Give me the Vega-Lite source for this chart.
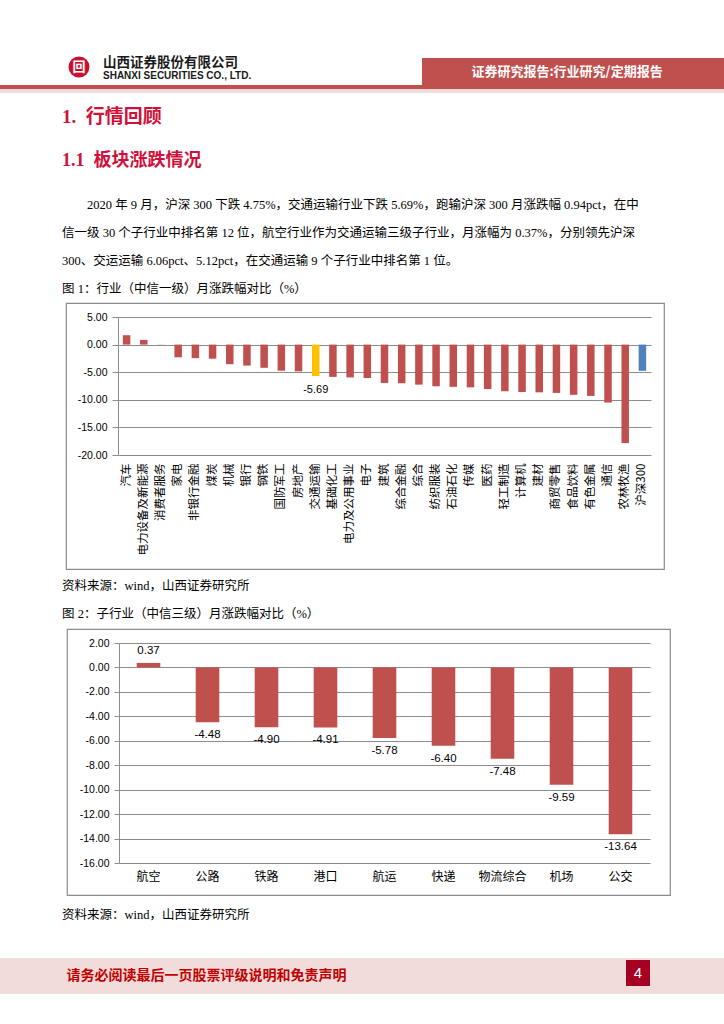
{
  "$schema": "https://vega.github.io/schema/vega-lite/v6.json",
  "padding": 0,
  "background": "white",
  "spacing": 0,
  "config": {
    "view": {"stroke": null},
    "font": "Noto Sans CJK SC",
    "locale": {"number": {"decimal": ".", "thousands": ",", "grouping": [3], "currency": ["", ""], "minus": "-"}}
  },
  "datasets": {
    "empty": [],
    "logo": [{"t": "回"}],
    "banner": [{"t": "证券研究报告:行业研究/定期报告"}],
    "foot": [{"t": "请务必阅读最后一页股票评级说明和免责声明"}],
    "page": [{"t": "4"}],
    "ind": [
      {"name": "汽车", "value": 1.70, "kind": "行业"},
      {"name": "电力设备及新能源", "value": 0.85, "kind": "行业"},
      {"name": "消费者服务", "value": 0.03, "kind": "行业"},
      {"name": "家电", "value": -2.30, "kind": "行业"},
      {"name": "非银行金融", "value": -2.45, "kind": "行业"},
      {"name": "煤炭", "value": -2.55, "kind": "行业"},
      {"name": "机械", "value": -3.55, "kind": "行业"},
      {"name": "银行", "value": -3.80, "kind": "行业"},
      {"name": "钢铁", "value": -4.20, "kind": "行业"},
      {"name": "国防军工", "value": -4.73, "kind": "行业"},
      {"name": "房地产", "value": -4.85, "kind": "行业"},
      {"name": "交通运输", "value": -5.69, "kind": "交通运输"},
      {"name": "基础化工", "value": -5.85, "kind": "行业"},
      {"name": "电力及公用事业", "value": -5.95, "kind": "行业"},
      {"name": "电子", "value": -6.05, "kind": "行业"},
      {"name": "建筑", "value": -6.95, "kind": "行业"},
      {"name": "综合金融", "value": -7.00, "kind": "行业"},
      {"name": "综合", "value": -7.25, "kind": "行业"},
      {"name": "纺织服装", "value": -7.55, "kind": "行业"},
      {"name": "石油石化", "value": -7.65, "kind": "行业"},
      {"name": "传媒", "value": -7.75, "kind": "行业"},
      {"name": "医药", "value": -8.05, "kind": "行业"},
      {"name": "轻工制造", "value": -8.45, "kind": "行业"},
      {"name": "计算机", "value": -8.60, "kind": "行业"},
      {"name": "建材", "value": -8.65, "kind": "行业"},
      {"name": "商贸零售", "value": -8.75, "kind": "行业"},
      {"name": "食品饮料", "value": -9.10, "kind": "行业"},
      {"name": "有色金属", "value": -9.30, "kind": "行业"},
      {"name": "通信", "value": -10.50, "kind": "行业"},
      {"name": "农林牧渔", "value": -17.85, "kind": "行业"},
      {"name": "沪深300", "value": -4.75, "kind": "沪深300"}
    ],
    "sub": [
      {"name": "航空", "value": 0.37},
      {"name": "公路", "value": -4.48},
      {"name": "铁路", "value": -4.90},
      {"name": "港口", "value": -4.91},
      {"name": "航运", "value": -5.78},
      {"name": "快递", "value": -6.40},
      {"name": "物流综合", "value": -7.48},
      {"name": "机场", "value": -9.59},
      {"name": "公交", "value": -13.64}
    ]
  },
  "vconcat": [
    {
      "spacing": 0,
      "hconcat": [
        {"width": 67, "height": 85, "data": {"name": "empty"}, "mark": "point"},
        {
          "spacing": 0,
          "vconcat": [
            {"width": 24, "height": 54, "data": {"name": "empty"}, "mark": "point"},
            {"width": 24, "height": 26, "data": {"name": "logo"}, "layer": [
              {"mark": {"type": "point", "shape": "circle", "filled": true, "size": 440, "color": "#C8102E", "opacity": 1}, "encoding": {}},
              {"mark": {"type": "text", "color": "white", "fontSize": 13, "fontWeight": "bold", "font": "Noto Sans CJK SC"}, "encoding": {"text": {"field": "t"}}}
            ]},
            {"width": 24, "height": 5, "data": {"name": "empty"}, "mark": "point"}
          ]
        },
        {"width": 331, "height": 85, "data": {"name": "empty"}, "mark": "point",
         "title": {"text": "山西证券股份有限公司", "subtitle": "SHANXI SECURITIES CO., LTD.", "anchor": "start", "frame": "group", "dx": 12, "offset": -81,
                   "font": "Noto Sans CJK SC", "fontSize": 13.5, "fontWeight": "bold", "color": "#1a1a1a",
                   "subtitleFont": "Liberation Sans", "subtitleFontSize": 10, "subtitleFontWeight": "bold", "subtitleColor": "#1a1a1a", "subtitlePadding": 2}},
        {
          "spacing": 0,
          "vconcat": [
            {"width": 302, "height": 58, "data": {"name": "empty"}, "mark": "point"},
            {
              "spacing": 0,
              "hconcat": [
                {"width": 290, "height": 27, "data": {"name": "banner"}, "view": {"fill": "#C0504D", "stroke": null},
                 "mark": {"type": "text", "color": "white", "fontSize": 13, "fontWeight": "bold", "font": "Noto Sans CJK SC"},
                 "encoding": {"text": {"field": "t"}}},
                {"width": 12, "height": 27, "data": {"name": "empty"}, "view": {"fill": "#C0504D", "stroke": null}, "mark": "point"}
              ]
            }
          ]
        }
      ]
    },
    {"width": 724, "height": 4, "data": {"name": "empty"}, "mark": "point", "view": {"fill": "#C0504D", "stroke": null}},
    {"width": 724, "height": 4, "data": {"name": "empty"}, "mark": "point", "view": {"fill": "#F2DCDB", "stroke": null}},
    {
      "width": 724, "height": 39, "data": {"name": "empty"}, "mark": "point",
      "title": {"text": "1.\u2002行情回顾", "anchor": "start", "frame": "group", "dx": 62, "offset": -34,
                "font": "Liberation Serif, Noto Sans CJK SC", "fontSize": 19, "fontWeight": "bold", "color": "#D0103A"}
    },
    {
      "width": 724, "height": 170, "data": {"name": "empty"}, "mark": "point",
      "title": {
        "text": "1.1\u2002板块涨跌情况",
        "subtitle": [
          "\u200b\u3000\u30002020 年 9 月，沪深 300 下跌 4.75%，交通运输行业下跌 5.69%，跑输沪深 300 月涨跌幅 0.94pct，在中",
          "信一级 30 个子行业中排名第 12 位，航空行业作为交通运输三级子行业，月涨幅为 0.37%，分别领先沪深",
          "300、交运运输 6.06pct、5.12pct，在交通运输 9 个子行业中排名第 1 位。",
          "图 1：行业（中信一级）月涨跌幅对比（%）"
        ],
        "anchor": "start", "frame": "group", "dx": 62, "offset": -163,
        "font": "Liberation Serif, Noto Sans CJK SC", "fontSize": 18, "fontWeight": "bold", "color": "#D0103A",
        "subtitleFont": "Liberation Serif, Noto Sans CJK SC", "subtitleFontSize": 12.5, "subtitleColor": "#000000",
        "subtitleLineHeight": 28, "subtitlePadding": 29
      }
    },
    {
      "spacing": 0,
      "hconcat": [
        {"width": 65, "height": 266, "data": {"name": "empty"}, "mark": "point"},
        {
          "width": 598, "height": 266,
          "view": {"stroke": "#8C8C8C", "strokeWidth": 1.2},
          "data": {"name": "ind"},
          "encoding": {
            "x": {"field": "name", "type": "nominal", "sort": null,
                  "scale": {"range": [52, 585], "paddingInner": 0.57, "paddingOuter": 0.285},
                  "axis": {"orient": "bottom", "offset": -114, "labelAngle": -90, "labelAlign": "right", "labelBaseline": "middle",
                           "domain": false, "ticks": false, "grid": false, "labelPadding": 8, "labelFontSize": 11.5,
                           "labelFont": "Noto Sans CJK SC", "labelColor": "#000000", "title": null, "labelLimit": 200}},
            "y": {"field": "value", "type": "quantitative",
                  "scale": {"domain": [-20, 5], "range": [152, 14], "nice": false, "zero": false},
                  "axis": {"orient": "left", "offset": -52, "values": [5, 0, -5, -10, -15, -20], "format": ".2f",
                           "domainColor": "#8C8C8C", "tickColor": "#8C8C8C", "tickSize": 6, "gridColor": "#8C8C8C",
                           "labelFontSize": 10.5, "labelFont": "Liberation Sans", "labelColor": "#000000", "labelPadding": 5, "title": null}}
          },
          "layer": [
            {"mark": {"type": "bar", "size": 7.5},
             "encoding": {"color": {"field": "kind", "type": "nominal",
                                    "scale": {"domain": ["行业", "交通运输", "沪深300"], "range": ["#C0504D", "#FFC000", "#4F81BD"]},
                                    "legend": null}}},
            {"transform": [{"filter": "datum.kind === '交通运输'"}],
             "mark": {"type": "text", "baseline": "top", "dy": 8, "fontSize": 11, "font": "Liberation Sans", "color": "#000000"},
             "encoding": {"text": {"field": "value", "type": "quantitative", "format": ".2f"}}}
          ]
        }
      ]
    },
    {
      "width": 724, "height": 58, "data": {"name": "empty"}, "mark": "point",
      "title": {
        "text": ["资料来源：wind，山西证券研究所", "图 2：子行业（中信三级）月涨跌幅对比（%）"],
        "lineHeight": 28, "anchor": "start", "frame": "group", "dx": 62, "offset": -50,
        "font": "Liberation Serif, Noto Sans CJK SC", "fontSize": 12.5, "fontWeight": "normal", "color": "#000000"
      }
    },
    {
      "spacing": 0,
      "hconcat": [
        {"width": 66, "height": 266, "data": {"name": "empty"}, "mark": "point"},
        {
          "width": 603, "height": 266,
          "view": {"stroke": "#8C8C8C", "strokeWidth": 1.2},
          "data": {"name": "sub"},
          "encoding": {
            "x": {"field": "name", "type": "nominal", "sort": null,
                  "scale": {"range": [52, 583], "paddingInner": 0.6, "paddingOuter": 0.3},
                  "axis": {"orient": "bottom", "offset": -32, "labelAngle": 0, "labelBaseline": "top",
                           "domain": false, "ticks": false, "grid": false, "labelPadding": 8, "labelFontSize": 12,
                           "labelFont": "Noto Sans CJK SC", "labelColor": "#000000", "title": null}},
            "y": {"field": "value", "type": "quantitative",
                  "scale": {"domain": [-16, 2], "range": [234, 14], "nice": false, "zero": false},
                  "axis": {"orient": "left", "offset": -52, "values": [2, 0, -2, -4, -6, -8, -10, -12, -14, -16], "format": ".2f",
                           "domainColor": "#8C8C8C", "tickColor": "#8C8C8C", "tickSize": 5, "gridColor": "#8C8C8C",
                           "labelFontSize": 10.5, "labelFont": "Liberation Sans", "labelColor": "#000000", "labelPadding": 5, "title": null}}
          },
          "layer": [
            {"mark": {"type": "bar", "color": "#C0504D"}},
            {"transform": [{"filter": "datum.value >= 0"}],
             "mark": {"type": "text", "baseline": "bottom", "dy": -7, "fontSize": 11.5, "font": "Liberation Sans", "color": "#000000"},
             "encoding": {"text": {"field": "value", "type": "quantitative", "format": ".2f"}}},
            {"transform": [{"filter": "datum.value < 0"}],
             "mark": {"type": "text", "baseline": "top", "dy": 7, "fontSize": 11.5, "font": "Liberation Sans", "color": "#000000"},
             "encoding": {"text": {"field": "value", "type": "quantitative", "format": ".2f"}}}
          ]
        }
      ]
    },
    {
      "width": 724, "height": 62, "data": {"name": "empty"}, "mark": "point",
      "title": {"text": "资料来源：wind，山西证券研究所", "anchor": "start", "frame": "group", "dx": 62, "offset": -25,
                "font": "Liberation Serif, Noto Sans CJK SC", "fontSize": 12.5, "fontWeight": "normal", "color": "#000000"}
    },
    {
      "spacing": 0,
      "hconcat": [
        {"width": 60, "height": 36, "data": {"name": "empty"}, "mark": "point", "view": {"fill": "#F2DCDB", "stroke": null}},
        {"width": 293, "height": 36, "data": {"name": "foot"}, "view": {"fill": "#F2DCDB", "stroke": null},
         "mark": {"type": "text", "color": "#C00000", "fontSize": 14, "fontWeight": "bold", "font": "Noto Sans CJK SC"},
         "encoding": {"text": {"field": "t"}}},
        {"width": 273, "height": 36, "data": {"name": "empty"}, "mark": "point", "view": {"fill": "#F2DCDB", "stroke": null}},
        {
          "spacing": 0,
          "vconcat": [
            {"width": 24, "height": 2, "data": {"name": "empty"}, "mark": "point", "view": {"fill": "#F2DCDB", "stroke": null}},
            {"width": 24, "height": 26, "data": {"name": "page"}, "view": {"fill": "#A50021", "stroke": null},
             "mark": {"type": "text", "color": "white", "fontSize": 15, "font": "Liberation Sans"},
             "encoding": {"text": {"field": "t"}}},
            {"width": 24, "height": 8, "data": {"name": "empty"}, "mark": "point", "view": {"fill": "#F2DCDB", "stroke": null}}
          ]
        },
        {"width": 74, "height": 36, "data": {"name": "empty"}, "mark": "point", "view": {"fill": "#F2DCDB", "stroke": null}}
      ]
    }
  ]
}
